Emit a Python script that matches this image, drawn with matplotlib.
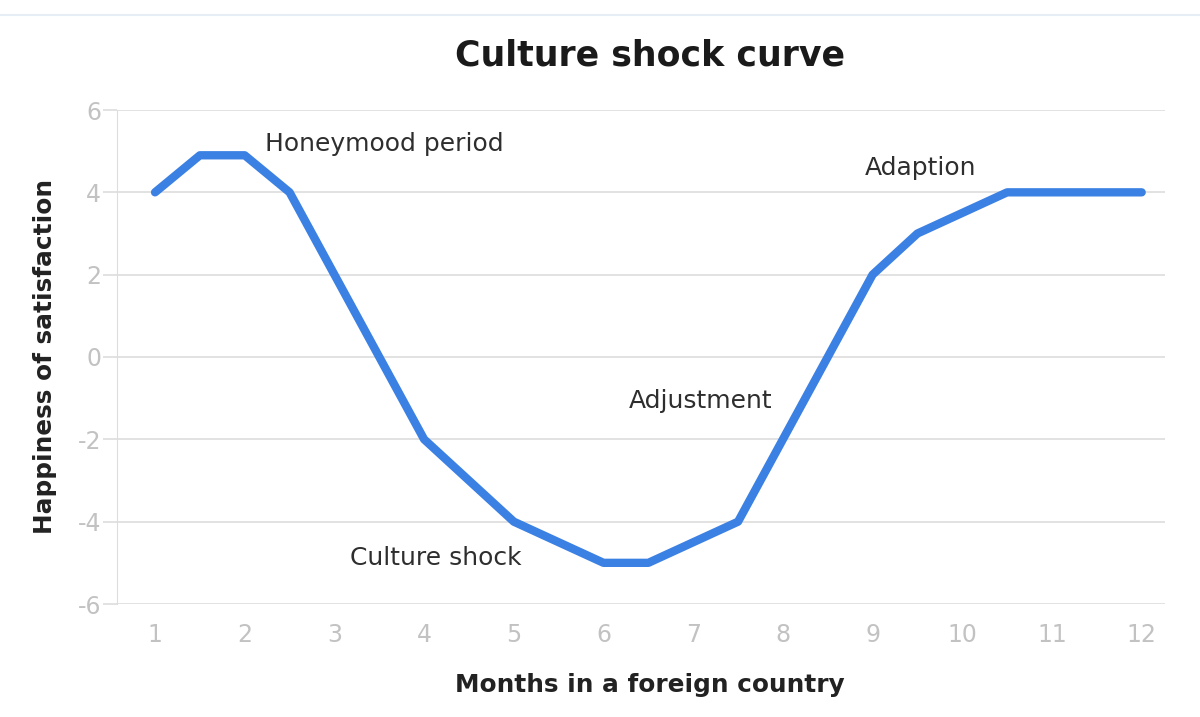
import matplotlib.pyplot as plt
from matplotlib.lines import Line2D

# Culture shock curve data (months vs happiness)
months = [1, 1.5, 2, 2.5, 4, 5, 6, 6.5, 7.5, 8.5, 9, 9.5, 10.5, 12]
happiness = [4, 4.9, 4.9, 4, -2, -4, -5, -5, -4, 0, 2, 3, 4, 4]

x_ticks = [1, 2, 3, 4, 5, 6, 7, 8, 9, 10, 11, 12]
y_ticks = [-6, -4, -2, 0, 2, 4, 6]

phase_labels = ["Honeymood period", "Culture shock", "Adjustment", "Adaption"]
phase_x = [2.23, 3.17, 6.28, 8.91]
phase_y = [5.17, -4.88, -1.07, 4.59]

plt.rcParams['font.family'] = ['DejaVu Sans']
plt.rcParams['axes.unicode_minus'] = False

fig = plt.figure(figsize=(12, 7.17), dpi=100)
ax = fig.add_axes([117 / 1200, 1 - 604 / 717, (1165 - 117) / 1200, (604 - 110) / 717])

ax.plot(months, happiness, color='#3b80e3', linewidth=6, solid_capstyle='round',
        solid_joinstyle='round', zorder=3)

for label, x, y in zip(phase_labels, phase_x, phase_y):
    ax.text(x, y, label, fontsize=18, color='#2e2e2e', ha='left', va='center')

ax.set_xlim(0.576, 12.26)
ax.set_ylim(-6, 6)
ax.set_xticks(x_ticks)
ax.set_yticks(y_ticks)
ax.grid(axis='y', color='#dddddd', linewidth=1.2)
ax.set_axisbelow(True)
for side in ['top', 'right', 'bottom']:
    ax.spines[side].set_visible(False)
ax.spines['left'].set_color('#dddddd')
ax.tick_params(axis='y', length=10, color='#dddddd', width=1.2, labelsize=17,
               labelcolor='#c2c2c2', pad=1.5)
ax.tick_params(axis='x', length=0, labelsize=17, labelcolor='#c2c2c2', pad=14)

ax.set_xlabel("Months in a foreign country", fontsize=17.8, fontweight='bold',
              color='#222222', va='center')
ax.set_ylabel("Happiness of satisfaction", fontsize=17.8, fontweight='bold',
              color='#222222', va='center')
ax.xaxis.set_label_coords(0.508, (604 - 685) / 494)
ax.yaxis.set_label_coords((45 - 117) / 1048, 0.5)

fig.text(0.542, 1 - 55 / 717, "Culture shock curve", fontsize=25, fontweight='bold',
         color='#1a1a1a', ha='center', va='center')

# thin border line across the top
fig.add_artist(Line2D([0, 1], [1 - 15 / 717, 1 - 15 / 717], color='#e6edf4',
                      linewidth=1.5, transform=fig.transFigure))

fig.savefig('out.png', dpi=100)
